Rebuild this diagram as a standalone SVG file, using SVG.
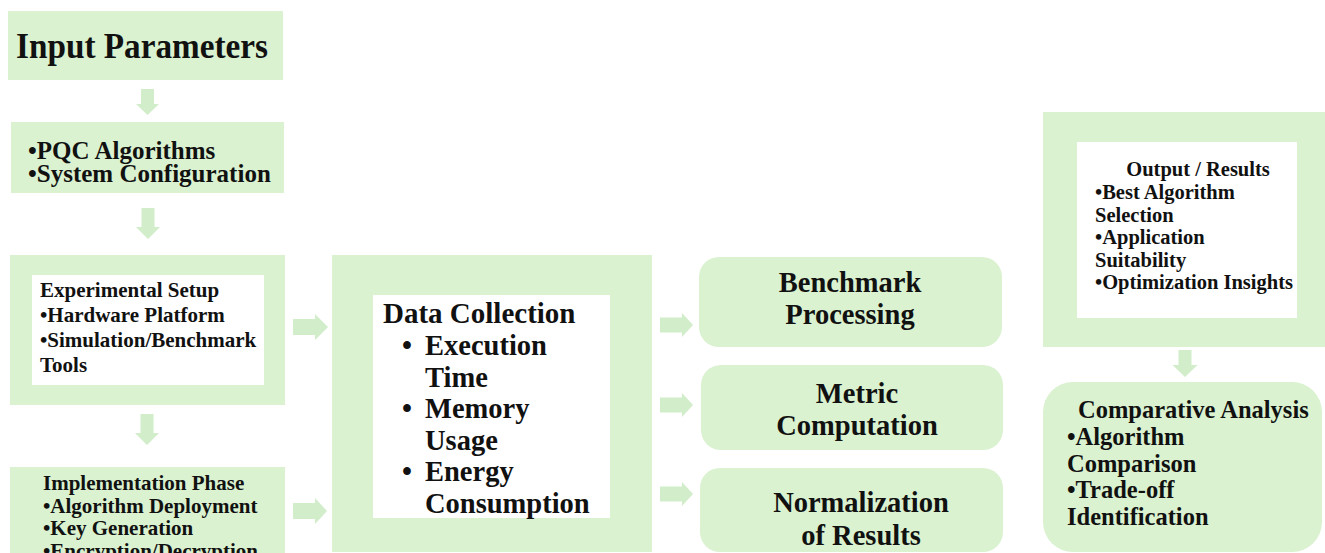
<svg xmlns="http://www.w3.org/2000/svg" width="1325" height="553" viewBox="0 0 1325 553">
<style>
.box{fill:#DAF2D0;}
.inner{fill:#FFFFFF;}
.arr{fill:#D2EDCA;}
text{font-family:"Liberation Serif","Times New Roman",serif;font-weight:bold;fill:#111111;}
.t21{font-size:21px;}
.t20{font-size:20.5px;}
.t24{font-size:24.5px;}
.t25{font-size:25px;}
.t28{font-size:28.5px;}
.mid{text-anchor:middle;}
</style>
<rect width="1325" height="553" fill="#FFFFFF"/>

<g id="connectors">
<polygon class="arr" points="141,89 154,89 154,104 159,104 147.5,115 136,104 141,104"/>
<polygon class="arr" points="141.5,208 154.5,208 154.5,227 160,227 148,239 136,227 141.5,227"/>
<polygon class="arr" points="140.5,414 153.5,414 153.5,433 159,433 147,445 135,433 140.5,433"/>
<polygon class="arr" points="1178.5,350 1191.5,350 1191.5,365 1197.5,365 1185,377 1172.5,365 1178.5,365"/>
<polygon class="arr" points="293,319 315,319 315,314 328,327 315,340 315,335 293,335"/>
<polygon class="arr" points="293,503 315,503 315,498 327,511 315,524 315,519 293,519"/>
<polygon class="arr" points="660,317.5 682,317.5 682,313 693,325 682,337 682,332.5 660,332.5"/>
<polygon class="arr" points="660,397.5 682,397.5 682,393 693,405 682,417 682,412.5 660,412.5"/>
<polygon class="arr" points="660,486.5 682,486.5 682,482 693,494 682,506 682,501.5 660,501.5"/>
</g>

<g id="input-parameters">
<rect class="box" x="8" y="11" width="275" height="69"/>
<text x="16" y="58" font-size="36" textLength="252" lengthAdjust="spacingAndGlyphs">Input Parameters</text>
</g>

<g id="pqc-config">
<rect class="box" x="11" y="122" width="273" height="71"/>
<text class="t25" x="28" y="159"><tspan x="28" y="159">•PQC Algorithms</tspan><tspan x="28" y="182">•System Configuration</tspan></text>
</g>

<g id="experimental-setup">
<rect class="box" x="10" y="255" width="275" height="150"/>
<rect class="inner" x="32" y="275" width="232" height="110"/>
<text class="t21" x="40" y="297">Experimental Setup</text>
<text class="t21" x="40" y="322">•Hardware Platform</text>
<text class="t21" x="40" y="347">•Simulation/Benchmark</text>
<text class="t21" x="40" y="372">Tools</text>
</g>

<g id="implementation-phase">
<rect class="box" x="10" y="467" width="275" height="90"/>
<text class="t21" x="43" y="490">Implementation Phase</text>
<text class="t21" x="43" y="512.5">•Algorithm Deployment</text>
<text class="t21" x="43" y="535">•Key Generation</text>
<text class="t21" x="43" y="557.5">•Encryption/Decryption</text>
</g>

<g id="data-collection">
<rect class="box" x="332" y="255" width="320" height="297"/>
<rect class="inner" x="373" y="295" width="237" height="223"/>
<text x="383" y="323" font-size="29">Data Collection</text>
<text class="t28" x="402" y="355">•</text>
<text class="t28" x="425" y="355">Execution</text>
<text class="t28" x="425" y="386.5">Time</text>
<text class="t28" x="402" y="418">•</text>
<text class="t28" x="425" y="418">Memory</text>
<text class="t28" x="425" y="449.5">Usage</text>
<text class="t28" x="402" y="481">•</text>
<text class="t28" x="425" y="481">Energy</text>
<text class="t28" x="425" y="512.5">Consumption</text>
</g>

<g id="benchmark-processing">
<rect class="box" x="699" y="257" width="303" height="90" rx="20"/>
<text class="t28 mid" x="850" y="292">Benchmark</text>
<text class="t28 mid" x="850" y="324">Processing</text>
</g>

<g id="metric-computation">
<rect class="box" x="701" y="365" width="302" height="85" rx="20"/>
<text class="t28 mid" x="857" y="403">Metric</text>
<text class="t28 mid" x="857" y="435">Computation</text>
</g>

<g id="normalization">
<rect class="box" x="700" y="468" width="303" height="84" rx="20"/>
<text class="t28 mid" x="861" y="512">Normalization</text>
<text class="t28 mid" x="861" y="545">of Results</text>
</g>

<g id="output-results">
<rect class="box" x="1043" y="112" width="282" height="235"/>
<rect class="inner" x="1077" y="142" width="220" height="176"/>
<text class="t20 mid" x="1198" y="176">Output / Results</text>
<text class="t20" x="1095" y="199">•Best Algorithm</text>
<text class="t20" x="1095" y="221.5">Selection</text>
<text class="t20" x="1095" y="244">•Application</text>
<text class="t20" x="1095" y="266.5">Suitability</text>
<text class="t20" x="1095" y="289">•Optimization Insights</text>
</g>

<g id="comparative-analysis">
<rect class="box" x="1043" y="382" width="279" height="170" rx="30"/>
<text class="t24" x="1078" y="418">Comparative Analysis</text>
<text class="t24" x="1067" y="445">•Algorithm</text>
<text class="t24" x="1067" y="472">Comparison</text>
<text class="t24" x="1067" y="498">•Trade-off</text>
<text class="t24" x="1067" y="525">Identification</text>
</g>
</svg>
